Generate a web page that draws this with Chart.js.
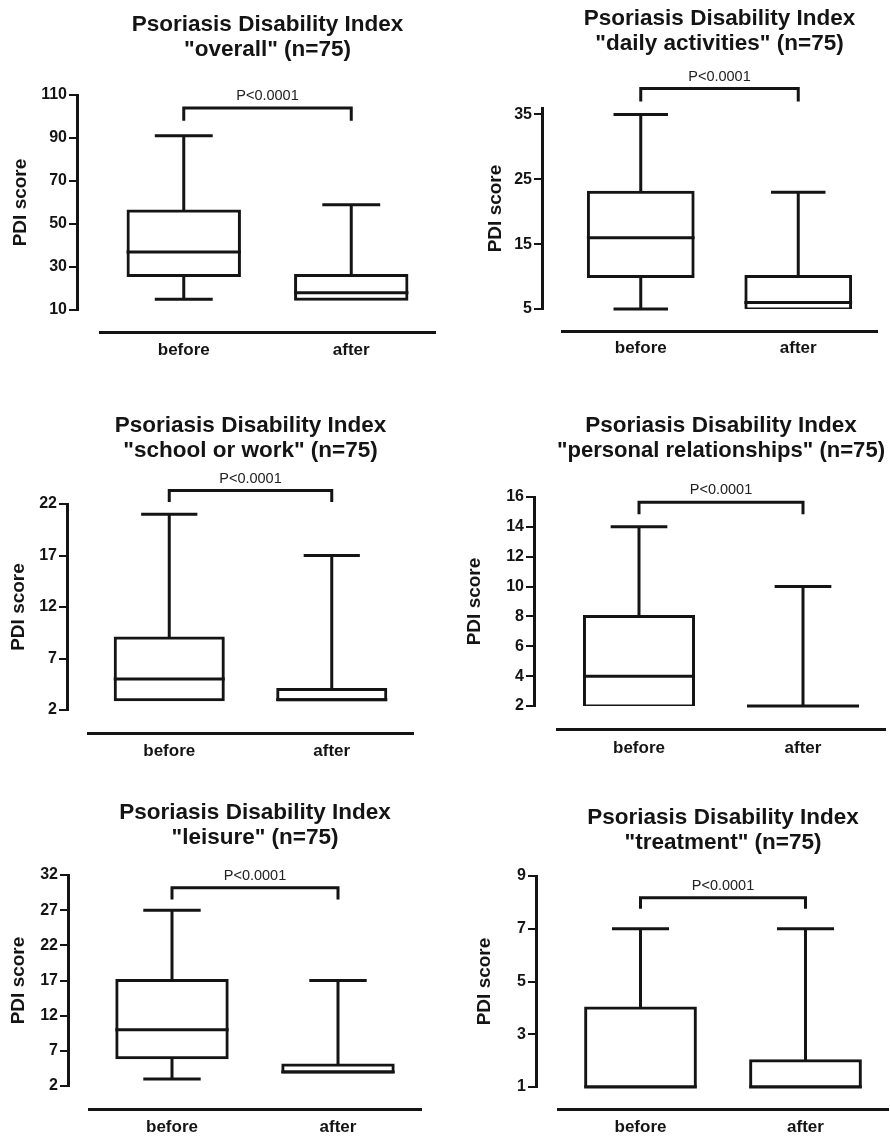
<!DOCTYPE html>
<html>
<head>
<meta charset="utf-8">
<script src="https://cdn.jsdelivr.net/npm/chart.js@4.4.1/dist/chart.umd.min.js"></script>
<style>
  html, body { margin: 0; padding: 0; background: #ffffff; overflow: hidden; }
  body { width: 890px; height: 1136px; position: relative; }
  canvas { position: absolute; }
</style>
</head>
<body>
<canvas id="c1"></canvas>
<canvas id="c2"></canvas>
<canvas id="c3"></canvas>
<canvas id="c4"></canvas>
<canvas id="c5"></canvas>
<canvas id="c6"></canvas>
<script>
// ---------------- DATA ----------------
const categories = ['before', 'after'];
const pLabel = 'P<0.0001';
const yAxisTitle = 'PDI score';

// box statistics: [min, q1, median, q3, max]
const overallBefore   = [15, 26, 37, 56, 91];
const overallAfter    = [15, 15, 18, 26, 59];
const dailyBefore     = [5, 10, 16, 23, 35];
const dailyAfter      = [5, 5, 6, 10, 23];
const schoolBefore    = [3, 3, 5, 9, 21];
const schoolAfter     = [3, 3, 3, 4, 17];
const personalBefore  = [2, 2, 4, 8, 14];
const personalAfter   = [2, 2, 2, 2, 10];
const leisureBefore   = [3, 6, 10, 17, 27];
const leisureAfter    = [4, 4, 4, 5, 17];
const treatmentBefore = [1, 1, 1, 4, 7];
const treatmentAfter  = [1, 1, 1, 2, 7];

// titles
const overallTitle   = ['Psoriasis Disability Index', '"overall" (n=75)'];
const dailyTitle     = ['Psoriasis Disability Index', '"daily activities" (n=75)'];
const schoolTitle    = ['Psoriasis Disability Index', '"school or work" (n=75)'];
const personalTitle  = ['Psoriasis Disability Index', '"personal relationships" (n=75)'];
const leisureTitle   = ['Psoriasis Disability Index', '"leisure" (n=75)'];
const treatmentTitle = ['Psoriasis Disability Index', '"treatment" (n=75)'];

// y tick labels
const overallTicks   = [10, 30, 50, 70, 90, 110];
const dailyTicks     = [5, 15, 25, 35];
const schoolTicks    = [2, 7, 12, 17, 22];
const personalTicks  = [2, 4, 6, 8, 10, 12, 14, 16];
const leisureTicks   = [2, 7, 12, 17, 22, 27, 32];
const treatmentTicks = [1, 3, 5, 7, 9];

// y axis ranges [min, max]
const overallRange   = [10, 110];
const dailyRange     = [5, 36];
const schoolRange    = [2, 22];
const personalRange  = [2, 16];
const leisureRange   = [2, 32];
const treatmentRange = [1, 9];

// significance bracket [bar level, end of drops] in data units
const overallBracket   = [104, 98];
const dailyBracket     = [39, 37];
const schoolBracket    = [23.3, 22.2];
const personalBracket  = [15.65, 14.85];
const leisureBracket   = [30.2, 28.5];
const treatmentBracket = [8.18, 7.76];

// ---------------- STYLE / LAYOUT ----------------
const ink = '#141414';
const FONT = '"Liberation Sans", Arial, Helvetica, sans-serif';
const TITLE_SIZE = 22.5, TITLE_LH = 24.5;
const YTITLE_SIZE = 19, XLABEL_SIZE = 17, YTICK_SIZE = 16;

const layouts = [
  {id:'c1', box:[0,0,445,380],     yAxisX:77,  plotLeft:100, plotRight:435, plotTop:95,  plotBottom:310,  xLineY:332,  titleY:25,  yTitleX:21,  labelY:350},
  {id:'c2', box:[445,0,445,380],   yAxisX:542, plotLeft:562, plotRight:877, plotTop:108, plotBottom:309,  xLineY:331,  titleY:19,  yTitleX:496, labelY:348},
  {id:'c3', box:[0,370,445,410],   yAxisX:67,  plotLeft:88,  plotRight:413, plotTop:504, plotBottom:710,  xLineY:733,  titleY:426, yTitleX:19,  labelY:751},
  {id:'c4', box:[445,370,445,410], yAxisX:534, plotLeft:557, plotRight:885, plotTop:497, plotBottom:706,  xLineY:729,  titleY:426, yTitleX:475, labelY:748},
  {id:'c5', box:[0,750,445,386],   yAxisX:68,  plotLeft:89,  plotRight:421, plotTop:875, plotBottom:1086, xLineY:1109, titleY:813, yTitleX:19,  labelY:1127},
  {id:'c6', box:[445,750,445,386], yAxisX:536, plotLeft:558, plotRight:888, plotTop:876, plotBottom:1087, xLineY:1109, titleY:818, yTitleX:485, labelY:1127}
];

const panels = [
  {title: overallTitle,   stats: [overallBefore, overallAfter],     ticks: overallTicks,   range: overallRange,   bracket: overallBracket},
  {title: dailyTitle,     stats: [dailyBefore, dailyAfter],         ticks: dailyTicks,     range: dailyRange,     bracket: dailyBracket},
  {title: schoolTitle,    stats: [schoolBefore, schoolAfter],       ticks: schoolTicks,    range: schoolRange,    bracket: schoolBracket},
  {title: personalTitle,  stats: [personalBefore, personalAfter],   ticks: personalTicks,  range: personalRange,  bracket: personalBracket},
  {title: leisureTitle,   stats: [leisureBefore, leisureAfter],     ticks: leisureTicks,   range: leisureRange,   bracket: leisureBracket},
  {title: treatmentTitle, stats: [treatmentBefore, treatmentAfter], ticks: treatmentTicks, range: treatmentRange, bracket: treatmentBracket}
];

// whiskers, medians and bracket drawn through the chart's scales
const boxPlugin = {
  id: 'boxWhiskers',
  afterDatasetsDraw(chart, args, opts) {
    const ctx = chart.ctx;
    const xs = chart.scales.x, ys = chart.scales.y;
    const meta = chart.getDatasetMeta(0);
    const stats = opts.stats;
    ctx.save();
    ctx.strokeStyle = ink;
    ctx.lineWidth = 3;
    ctx.lineCap = 'butt';
    stats.forEach((s, i) => {
      const [mn, q1, med, q3, mx] = s;
      const bar = meta.data[i];
      const cx = xs.getPixelForValue(i);
      const w = bar.width;
      const cap = w * 0.52;
      ctx.beginPath();
      if (mx > q3) {
        ctx.moveTo(cx, ys.getPixelForValue(q3));
        ctx.lineTo(cx, ys.getPixelForValue(mx));
        ctx.moveTo(cx - cap / 2, ys.getPixelForValue(mx));
        ctx.lineTo(cx + cap / 2, ys.getPixelForValue(mx));
      }
      if (mn < q1) {
        ctx.moveTo(cx, ys.getPixelForValue(q1));
        ctx.lineTo(cx, ys.getPixelForValue(mn));
        ctx.moveTo(cx - cap / 2, ys.getPixelForValue(mn));
        ctx.lineTo(cx + cap / 2, ys.getPixelForValue(mn));
      }
      const my = ys.getPixelForValue(med);
      ctx.moveTo(cx - w / 2 - 1.5, my);
      ctx.lineTo(cx + w / 2 + 1.5, my);
      ctx.stroke();
    });
    // significance bracket
    const [bTop, bDrop] = opts.bracket;
    const x0 = xs.getPixelForValue(0), x1 = xs.getPixelForValue(1);
    const yt = ys.getPixelForValue(bTop), yd = ys.getPixelForValue(bDrop);
    ctx.beginPath();
    ctx.moveTo(x0, yd);
    ctx.lineTo(x0, yt);
    ctx.lineTo(x1, yt);
    ctx.lineTo(x1, yd);
    ctx.lineJoin = 'miter';
    ctx.stroke();
    ctx.fillStyle = '#222';
    ctx.font = 'normal 14.5px ' + FONT;
    ctx.textAlign = 'center';
    ctx.textBaseline = 'middle';
    ctx.fillText(opts.label, (x0 + x1) / 2, yt - 12);
    ctx.restore();
  }
};

panels.forEach((p, idx) => {
  const L = layouts[idx];
  const [cx, cy, cw, ch] = L.box;
  const canvas = document.getElementById(L.id);
  canvas.width = cw; canvas.height = ch;
  canvas.style.left = cx + 'px'; canvas.style.top = cy + 'px';
  canvas.style.width = cw + 'px'; canvas.style.height = ch + 'px';

  const yw = L.yAxisX - cx;
  const dl = L.plotLeft - L.yAxisX;
  const pr = cx + cw - L.plotRight;
  const gap = L.xLineY - L.plotBottom;
  const xh = 24;
  const pb = cy + ch - L.xLineY - xh;
  const tp = L.titleY - cy - TITLE_LH / 2;
  const tb = (L.plotTop - cy) - 2 * TITLE_LH - tp;
  const yTitlePad = L.yTitleX - cx - YTITLE_SIZE * 1.2 / 2;
  const xTickPad = L.labelY - L.xLineY - XLABEL_SIZE * 1.2 / 2;

  new Chart(canvas, {
    type: 'bar',
    data: {
      labels: categories,
      datasets: [{
        data: p.stats.map(s => [s[1], s[3]]),
        backgroundColor: '#ffffff',
        borderColor: ink,
        borderWidth: 3,
        borderSkipped: false,
        inflateAmount: 1.5,
        categoryPercentage: 1,
        barPercentage: 0.665,
        xAxisID: 'x',
        yAxisID: 'y'
      }]
    },
    options: {
      responsive: false,
      devicePixelRatio: 1,
      animation: false,
      events: [],
      layout: { padding: { left: 0, right: pr, top: 0, bottom: pb } },
      plugins: {
        legend: { display: false },
        tooltip: { enabled: false },
        title: {
          display: true,
          text: p.title,
          fullSize: false,
          color: ink,
          font: { family: FONT, size: TITLE_SIZE, weight: 'bold', lineHeight: TITLE_LH + 'px' },
          padding: { top: tp, bottom: tb }
        },
        boxWhiskers: { stats: p.stats, bracket: p.bracket, label: pLabel }
      },
      scales: {
        y: {
          type: 'linear',
          position: 'left',
          weight: 1,
          min: p.range[0],
          max: p.range[1],
          afterBuildTicks: s => { s.ticks = p.ticks.map(v => ({ value: v })); },
          afterFit: s => { s.width = yw; },
          border: { display: true, width: 3, color: ink },
          grid: { display: true, drawOnChartArea: false, drawTicks: true, tickLength: 8, lineWidth: 2, color: ink },
          ticks: { autoSkip: false, color: ink, padding: 2, font: { family: FONT, size: YTICK_SIZE, weight: 'bold' } },
          title: { display: true, text: yAxisTitle, color: ink, font: { family: FONT, size: YTITLE_SIZE, weight: 'bold' }, padding: { top: yTitlePad, bottom: 0 } }
        },
        yPad: {
          type: 'linear',
          position: 'left',
          weight: 0,
          display: true,
          afterFit: s => { s.width = dl; },
          border: { display: false },
          grid: { display: false, drawTicks: false },
          ticks: { display: false }
        },
        x: {
          type: 'category',
          position: 'bottom',
          weight: 1,
          offset: true,
          afterFit: s => { s.height = xh; },
          border: { display: true, width: 3, color: ink },
          grid: { display: false, drawTicks: false },
          ticks: { color: ink, padding: xTickPad, font: { family: FONT, size: XLABEL_SIZE, weight: 'bold' } }
        },
        xPad: {
          type: 'linear',
          position: 'bottom',
          weight: 0,
          display: true,
          afterFit: s => { s.height = gap; },
          border: { display: false },
          grid: { display: false, drawTicks: false },
          ticks: { display: false }
        }
      }
    },
    plugins: [boxPlugin]
  });
});
</script>
</body>
</html>
